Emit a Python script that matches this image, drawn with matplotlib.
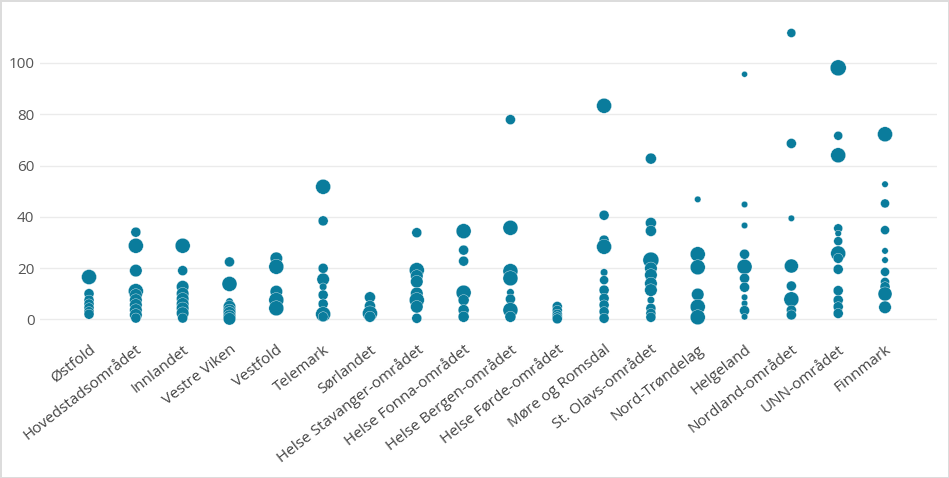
import matplotlib
matplotlib.use("Agg")
import matplotlib.pyplot as plt
from matplotlib.transforms import ScaledTranslation

categories = ["Østfold", "Hovedstadsområdet", "Innlandet", "Vestre Viken", "Vestfold",
              "Telemark", "Sørlandet", "Helse Stavanger-området", "Helse Fonna-området",
              "Helse Bergen-området", "Helse Førde-området", "Møre og Romsdal",
              "St. Olavs-området", "Nord-Trøndelag", "Helgeland", "Nordland-området",
              "UNN-området", "Finnmark"]

# values per category and matching bubble sizes (1 = small, 2 = medium, 3 = large)
values = [
    [16.5, 10, 7.5, 6, 4.5, 3, 2],
    [34, 28.7, 19, 11, 9.5, 7.5, 5.6, 3.6, 1.7, 0.5],
    [28.7, 19, 12.7, 10, 8, 6, 4.3, 2.4, 0.5],
    [22.4, 13.8, 6.9, 4.9, 3.5, 2.5, 1.2, 0.2],
    [23.8, 20.5, 10.8, 7.5, 4.3],
    [51.7, 38.4, 19.9, 15.6, 12.7, 9.5, 6, 2, 1],
    [8.6, 5.2, 2.3, 1],
    [33.8, 19.2, 16.9, 14.7, 10.1, 7.5, 4.9, 0.4],
    [34.4, 27, 22.7, 10.4, 7.5, 3.6, 1],
    [77.9, 35.7, 18.8, 16, 10.5, 7.9, 3.6, 1],
    [5, 3.5, 2, 1, 0.2],
    [83.3, 40.6, 30.9, 28.3, 18.3, 15.3, 11.4, 8.2, 5.6, 3, 0.4],
    [62.7, 37.6, 34.5, 23.1, 19.9, 17.3, 14, 11.4, 7.5, 4.3, 2.3, 0.8],
    [46.8, 25.4, 20.3, 9.7, 4.9, 0.8],
    [95.6, 44.8, 36.6, 25.4, 20.5, 16, 12.5, 8.6, 6.2, 3.4, 1],
    [111.7, 68.6, 39.4, 20.8, 13, 7.8, 3.6, 1.7],
    [98.1, 71.6, 64, 35.5, 33.5, 30.5, 25.7, 23.8, 19.5, 11.2, 7.5, 4.9, 2.3],
    [72.2, 52.7, 45.2, 34.8, 26.7, 23.1, 18.5, 14.6, 12.7, 9.9, 4.7],
]
sizes = [
    [3, 2, 2, 2, 2, 2, 2],
    [2, 3, 2.5, 3, 2.5, 2.5, 2.5, 2.5, 2.5, 2],
    [3, 2, 2.5, 2.5, 2.5, 2.5, 2.5, 2.5, 2],
    [2, 3, 1.5, 2.5, 2.5, 2.5, 2.5, 2.5],
    [2.5, 3, 2.5, 3, 3],
    [3, 2, 2, 2.5, 1.5, 2, 2, 3, 2],
    [2.2, 2.2, 3, 2.2],
    [2, 3, 2.5, 2.5, 2.5, 3, 2.5, 2],
    [3, 2, 2, 3, 2.2, 2.2, 2.2],
    [2, 3, 3, 3, 1.5, 2, 3, 2.2],
    [2, 2, 2, 2, 2],
    [3, 2, 2, 3, 1.5, 1.8, 2, 2, 2, 2, 2],
    [2.2, 2.2, 2.2, 3.2, 2.5, 2.5, 2.5, 2.5, 1.5, 2, 2, 2],
    [1.3, 3, 3, 2.5, 3, 3],
    [1.2, 1.3, 1.3, 2, 3, 2, 2, 1.3, 1.3, 2, 1.3],
    [1.8, 2, 1.3, 2.8, 2, 3, 2, 2],
    [3.2, 1.8, 3, 1.8, 1.3, 1.8, 3, 2, 2, 2, 2, 2, 2],
    [3, 1.3, 1.8, 1.8, 1.3, 1.3, 1.8, 1.8, 2, 2.8, 2.5],
]

yticks = [0, 20, 40, 60, 80, 100]

plt.rcParams['font.family'] = ['Open Sans', 'DejaVu Sans']

fig = plt.figure(figsize=(9.49, 4.78), dpi=100)
fig.patch.set_facecolor('white')
fig.patch.set_edgecolor('#dcdcdc')
fig.patch.set_linewidth(2)
ax = fig.add_axes([40/949, 0.3105, 897/949, 0.665])

color = '#0A7C9C'
for i, (vals, szs) in enumerate(zip(values, sizes)):
    ax.scatter([i]*len(vals), vals, s=[(z*3.6)**2 for z in szs], color=color,
               edgecolors='white', linewidths=0.25, zorder=3)

ax.set_xlim(-1.047, 18.11)
ax.set_ylim(-4, 120)
ax.set_yticks(yticks)
ax.set_yticklabels([str(t) for t in yticks], fontsize=11, color='#555555')
ax.set_xticks(range(len(categories)))
ax.set_xticklabels(categories, rotation=38, ha='right', rotation_mode='anchor',
                   fontsize=11, color='#444444')
offset = ScaledTranslation(6/100, 0, fig.dpi_scale_trans)
for lab in ax.get_xticklabels():
    lab.set_transform(lab.get_transform() + offset)
ax.tick_params(axis='both', length=0)
ax.tick_params(axis='x', pad=9)
ax.tick_params(axis='y', pad=4)
ax.grid(axis='y', color='#ebebeb', linewidth=1, zorder=0)
for sp in ax.spines.values():
    sp.set_visible(False)
ax.set_axisbelow(True)

fig.savefig('out.png', dpi=100, facecolor=fig.get_facecolor(), edgecolor=fig.get_edgecolor())
